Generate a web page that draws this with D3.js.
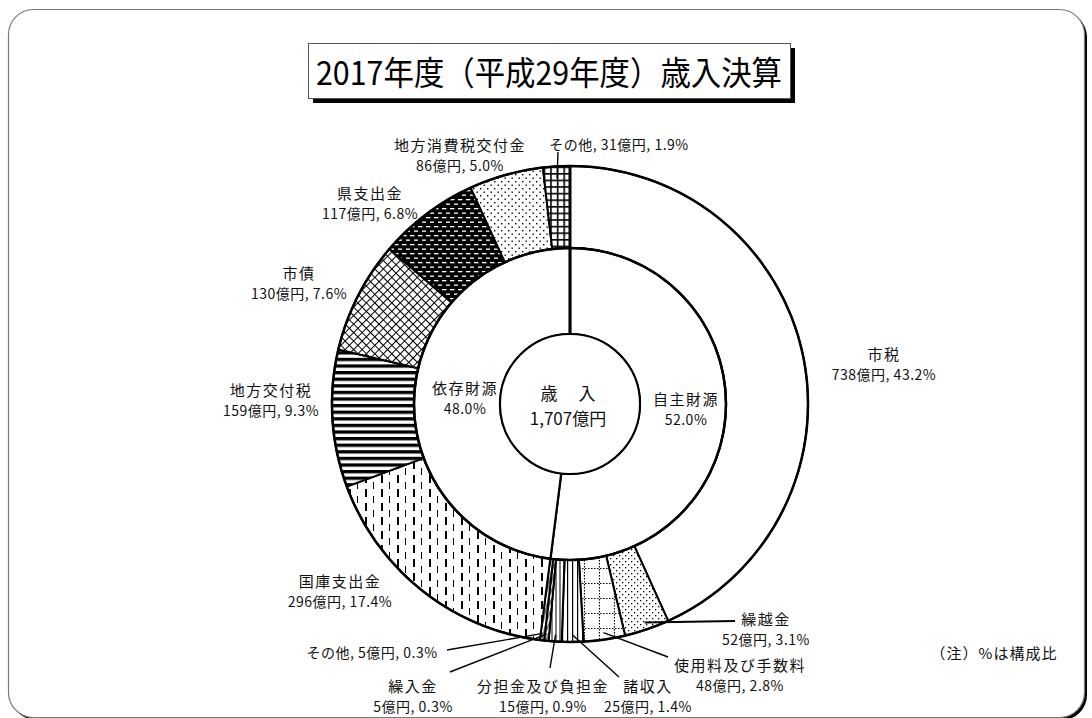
<!DOCTYPE html>
<html>
<head>
<meta charset="utf-8">
<script src="https://cdn.jsdelivr.net/npm/d3@7"></script>
<style>
body { margin: 0; background: #fff; }
text { font-family: "Noto Sans CJK JP", "Noto Sans", sans-serif; fill: #111; }
</style>
</head>
<body>
<div class="graphic"></div>
<script>
// 歳入決算 2017年度
const items = ["市税", "繰越金", "使用料及び手数料", "諸収入", "分担金及び負担金", "繰入金", "その他",
               "国庫支出金", "地方交付税", "市債", "県支出金", "地方消費税交付金", "その他"];
const amounts = [738, 52, 48, 25, 15, 5, 5, 296, 159, 130, 117, 86, 31];
const shares = [43.2, 3.1, 2.8, 1.4, 0.9, 0.3, 0.3, 17.4, 9.3, 7.6, 6.8, 5.0, 1.9];
const groups = ["自主財源", "依存財源"];
const groupShares = [52.0, 48.0];
const totalLabel = "1,707億円";
const title = "2017年度（平成29年度）歳入決算";

// label layout (page coords) : x,y = first line centre, lx,ly = leader end
const labelPos = [
    {x: 884, y: 353},
    {x: 766, y: 618, lx: 735, ly: 621},
    {x: 740, y: 664, lx: 668, ly: 657},
    {x: 648, y: 685, lx: 619, ly: 677},
    {x: 543, y: 685, lx: 550, ly: 668},
    {x: 413, y: 685, lx: 450, ly: 672},
    {x: 372, y: 652, lx: 447, ly: 650, one: true},
    {x: 340, y: 580},
    {x: 271, y: 389},
    {x: 299, y: 272},
    {x: 370, y: 192},
    {x: 460, y: 144},
    {x: 619, y: 144, lx: 558, ly: 152, one: true}
];

let svg = d3.select(".graphic")
            .append("svg")
            .attr("width", 1092)
            .attr("height", 718);

let cx = 570;
let cy = 404;
let R_OUT = 238;
let R_MID = 156;
let R_IN = 70;

// frame
svg.append("rect").attr("x", 11).attr("y", 12).attr("width", 1076).attr("height", 708)
    .attr("rx", 25).attr("fill", "#000");
svg.append("rect").attr("x", 8.5).attr("y", 9.5).attr("width", 1076).attr("height", 708)
    .attr("rx", 25).attr("fill", "#fff").attr("stroke", "#7a7a7a").attr("stroke-width", 1.2);

// title box
svg.append("rect").attr("x", 313).attr("y", 48).attr("width", 482).attr("height", 55).attr("fill", "#000");
svg.append("rect").attr("x", 308.5).attr("y", 43.5).attr("width", 482).attr("height", 55)
    .attr("fill", "#fff").attr("stroke", "#555").attr("stroke-width", 1);
svg.append("text").attr("x", 549).attr("y", 71).attr("text-anchor", "middle")
    .attr("dominant-baseline", "central").attr("font-size", 33)
    .attr("textLength", 466).attr("lengthAdjust", "spacingAndGlyphs")
    .style("fill", "#000").text(title);

// patterns
const defs = svg.append("defs");
function pattern(id, w, h, bg) {
    let p = defs.append("pattern").attr("id", id).attr("patternUnits", "userSpaceOnUse")
        .attr("width", w).attr("height", h);
    p.append("rect").attr("width", w).attr("height", h).attr("fill", bg || "#fff");
    return p;
}
let p;
pattern("p0", 10, 10);
p = pattern("p1", 6, 6);
p.append("rect").attr("x", 1).attr("y", 1).attr("width", 1.3).attr("height", 1.3).attr("fill", "#000");
p.append("rect").attr("x", 4).attr("y", 4).attr("width", 1.3).attr("height", 1.3).attr("fill", "#000");
p = pattern("p2", 15, 15);
p.append("line").attr("x1", 0).attr("y1", 14.5).attr("x2", 15).attr("y2", 14.5)
    .attr("stroke", "#000").attr("stroke-width", 1.2).attr("stroke-dasharray", "1.5,1.5");
p.append("line").attr("x1", 14.5).attr("y1", 0).attr("x2", 14.5).attr("y2", 15)
    .attr("stroke", "#000").attr("stroke-width", 1.2).attr("stroke-dasharray", "1.5,1.5");
p = pattern("p3", 5, 5);
p.append("rect").attr("x", 2).attr("width", 1.2).attr("height", 5).attr("fill", "#000");
p = pattern("p4", 4, 4);
p.append("rect").attr("x", 1.5).attr("width", 1).attr("height", 4).attr("fill", "#000");
p = pattern("p5", 4, 4).attr("patternTransform", "rotate(25)");
p.append("rect").attr("x", 1.5).attr("width", 1).attr("height", 4).attr("fill", "#000");
p = pattern("p6", 4, 4).attr("patternTransform", "rotate(15)");
p.append("rect").attr("x", 1.5).attr("width", 1).attr("height", 4).attr("fill", "#000");
p = pattern("p7", 16, 14);
p.append("rect").attr("x", 3).attr("y", 1).attr("width", 2).attr("height", 8).attr("fill", "#000");
p.append("rect").attr("x", 11).attr("y", 8).attr("width", 1).attr("height", 6).attr("fill", "#000");
p.append("rect").attr("x", 11).attr("y", 0).attr("width", 1).attr("height", 1).attr("fill", "#000");
p = pattern("p8", 8, 6.6);
p.append("rect").attr("y", 0).attr("width", 8).attr("height", 3.3).attr("fill", "#000");
p = pattern("p9", 6, 6).attr("patternTransform", "rotate(45)");
p.append("rect").attr("width", 6).attr("height", 1).attr("fill", "#000");
p.append("rect").attr("width", 1).attr("height", 6).attr("fill", "#000");
p = pattern("p10", 8, 9, "#000");
p.append("rect").attr("x", 0).attr("y", 2).attr("width", 4.5).attr("height", 1.3).attr("fill", "#fff");
p.append("rect").attr("x", 4).attr("y", 6.5).attr("width", 4.5).attr("height", 1.3).attr("fill", "#fff");
p = pattern("p11", 7, 7);
p.append("rect").attr("x", 1).attr("y", 1).attr("width", 1.4).attr("height", 1.4).attr("fill", "#000");
p.append("rect").attr("x", 4.5).attr("y", 4.5).attr("width", 1.4).attr("height", 1.4).attr("fill", "#000");
p = pattern("p12", 6.6, 6.6);
p.append("rect").attr("width", 6.6).attr("height", 1.6).attr("fill", "#000");
p.append("rect").attr("width", 1.6).attr("height", 6.6).attr("fill", "#000");

let g = svg.append("g").attr("transform", `translate(${cx},${cy})`);

// outer ring
let pie = d3.pie().sort(null).value(d => d);
let outerArcs = pie(amounts);
let arcOuter = d3.arc().innerRadius(R_MID).outerRadius(R_OUT);
g.selectAll("path.outer")
    .data(outerArcs)
    .enter()
    .append("path")
    .attr("class", "outer")
    .attr("d", arcOuter)
    .attr("fill", (d, i) => `url(#p${i})`)
    .attr("stroke", "#000")
    .attr("stroke-width", 2)
    .attr("stroke-linejoin", "round");

// inner ring (自主 / 依存)
let innerArcs = pie(groupShares);
let arcInner = d3.arc().innerRadius(R_IN).outerRadius(R_MID);
g.selectAll("path.inner")
    .data(innerArcs)
    .enter()
    .append("path")
    .attr("class", "inner")
    .attr("d", arcInner)
    .attr("fill", "#fff")
    .attr("stroke", "#000")
    .attr("stroke-width", 2.2);

// ring outlines
[R_OUT, R_MID].forEach(r => {
    g.append("circle").attr("r", r).attr("fill", "none").attr("stroke", "#000").attr("stroke-width", 2.5);
});
g.append("circle").attr("r", R_IN).attr("fill", "#fff").attr("stroke", "#000").attr("stroke-width", 2);
g.append("line").attr("x1", 0).attr("y1", -R_IN).attr("x2", 0).attr("y2", -R_OUT)
    .attr("stroke", "#000").attr("stroke-width", 3);

// leader lines
outerArcs.forEach((d, i) => {
    let lp = labelPos[i];
    if (lp.lx === undefined) return;
    let mid = (d.startAngle + d.endAngle) / 2;
    let r = i === 12 ? 226 : 231;
    let sx = cx + r * Math.sin(mid);
    let sy = cy - r * Math.cos(mid);
    svg.append("line").attr("x1", sx).attr("y1", sy).attr("x2", lp.lx).attr("y2", lp.ly)
        .attr("stroke", "#000").attr("stroke-width", i === 1 ? 2 : 1.4);
});

// labels : name line a bit wider spaced, value line tighter
function label(x, y, lines) {
    let t = svg.append("text").attr("text-anchor", "middle");
    lines.forEach((s, k) => {
        t.append("tspan").attr("x", x).attr("y", y + k * 21).attr("dominant-baseline", "central")
            .attr("font-size", k === 0 && lines.length > 1 ? 15 : 14)
            .attr("letter-spacing", k === 0 && lines.length > 1 ? 1.5 : 0.5)
            .text(s);
    });
}
items.forEach((name, i) => {
    let lp = labelPos[i];
    let val = `${amounts[i]}億円, ${shares[i].toFixed(1)}%`;
    if (lp.one) label(lp.x, lp.y, [`${name}, ${val}`]);
    else label(lp.x, lp.y, [name, val]);
});

// group labels
label(686, 398, [groups[0], groupShares[0].toFixed(1) + "%"]);
label(465, 387, [groups[1], groupShares[1].toFixed(1) + "%"]);

// centre
svg.append("text").attr("x", 568).attr("y", 392).attr("text-anchor", "middle")
    .attr("dominant-baseline", "central").attr("font-size", 17).attr("xml:space", "preserve")
    .text("歳　 入");
svg.append("text").attr("x", 568).attr("y", 417).attr("text-anchor", "middle")
    .attr("dominant-baseline", "central").attr("font-size", 17).text(totalLabel);

svg.append("text").attr("x", 994).attr("y", 652).attr("text-anchor", "middle")
    .attr("dominant-baseline", "central").attr("font-size", 15).attr("letter-spacing", 1)
    .text("（注）%は構成比");
</script>
</body>
</html>
